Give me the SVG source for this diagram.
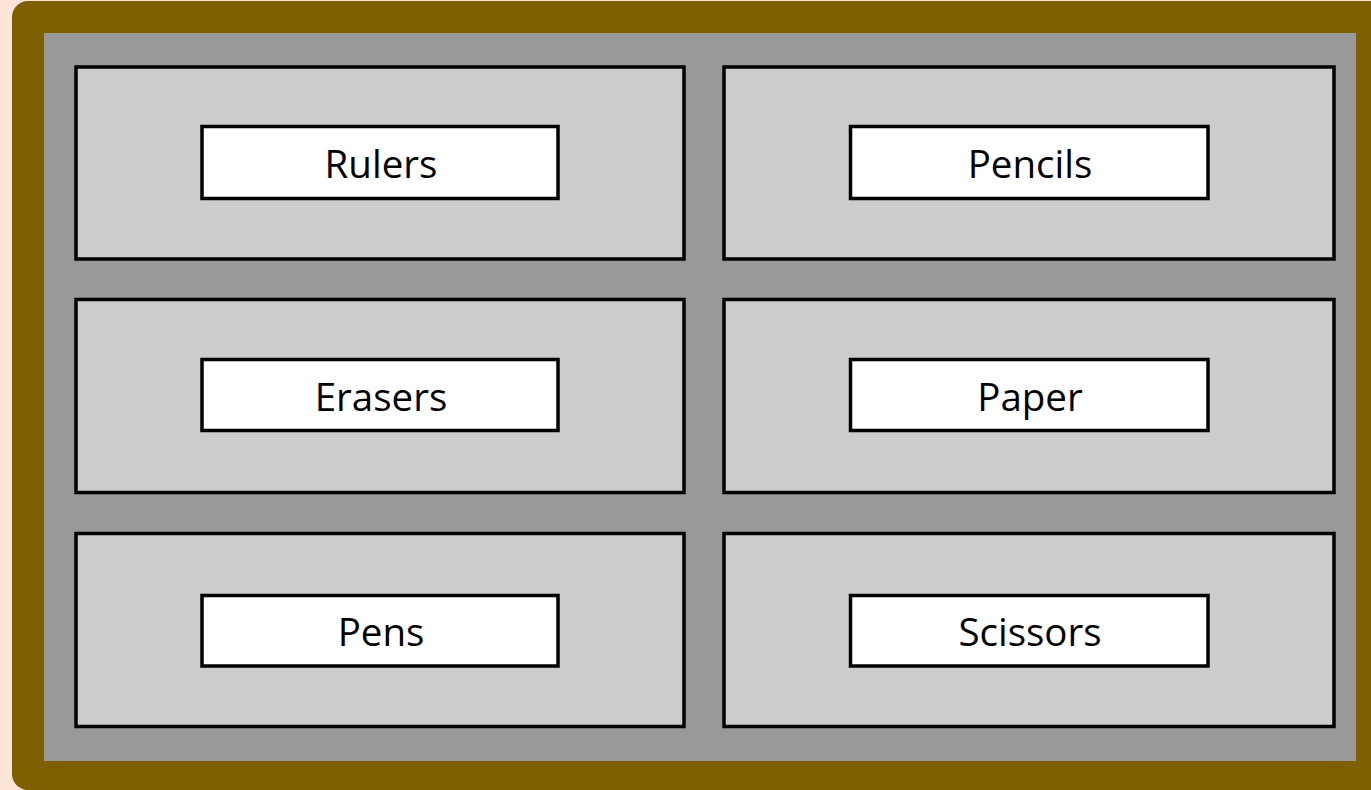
<svg xmlns="http://www.w3.org/2000/svg" width="1371" height="790" viewBox="0 0 1371 790">
<style>
.panel{fill:#cccccc;stroke:#000;stroke-width:3.5}
.box{fill:#fff;stroke:#000;stroke-width:3.5}
.lbl{font-family:"Open Sans","Noto Sans",sans-serif;font-size:38.5px;fill:#000;text-anchor:middle}
</style>
<rect x="0" y="0" width="1371" height="790" fill="#fde5d8"/>
<rect x="12" y="1" width="1380" height="789" rx="16" fill="#7f6000"/>
<rect x="44" y="33" width="1312" height="728" fill="#999999"/>
<g id="rulers"><rect class="panel" x="76" y="67" width="608" height="192"/><rect class="box" x="202" y="126.5" width="356" height="72"/><text class="lbl" x="381" y="178">Rulers</text></g>
<g id="pencils"><rect class="panel" x="724" y="67" width="610" height="192"/><rect class="box" x="850.5" y="126.5" width="357.5" height="72"/><text class="lbl" x="1030" y="178">Pencils</text></g>
<g id="erasers"><rect class="panel" x="76" y="299.5" width="608" height="193"/><rect class="box" x="202" y="359.5" width="356" height="71"/><text class="lbl" x="381" y="411">Erasers</text></g>
<g id="paper"><rect class="panel" x="724" y="299.5" width="610" height="193"/><rect class="box" x="850.5" y="359.5" width="357.5" height="71"/><text class="lbl" x="1030" y="411">Paper</text></g>
<g id="pens"><rect class="panel" x="76" y="533.5" width="608" height="193"/><rect class="box" x="202" y="595.5" width="356" height="70.5"/><text class="lbl" x="381" y="646">Pens</text></g>
<g id="scissors"><rect class="panel" x="724" y="533.5" width="610" height="193"/><rect class="box" x="850.5" y="595.5" width="357.5" height="70.5"/><text class="lbl" x="1030" y="646">Scissors</text></g>
<g id="connectors"></g>
</svg>
